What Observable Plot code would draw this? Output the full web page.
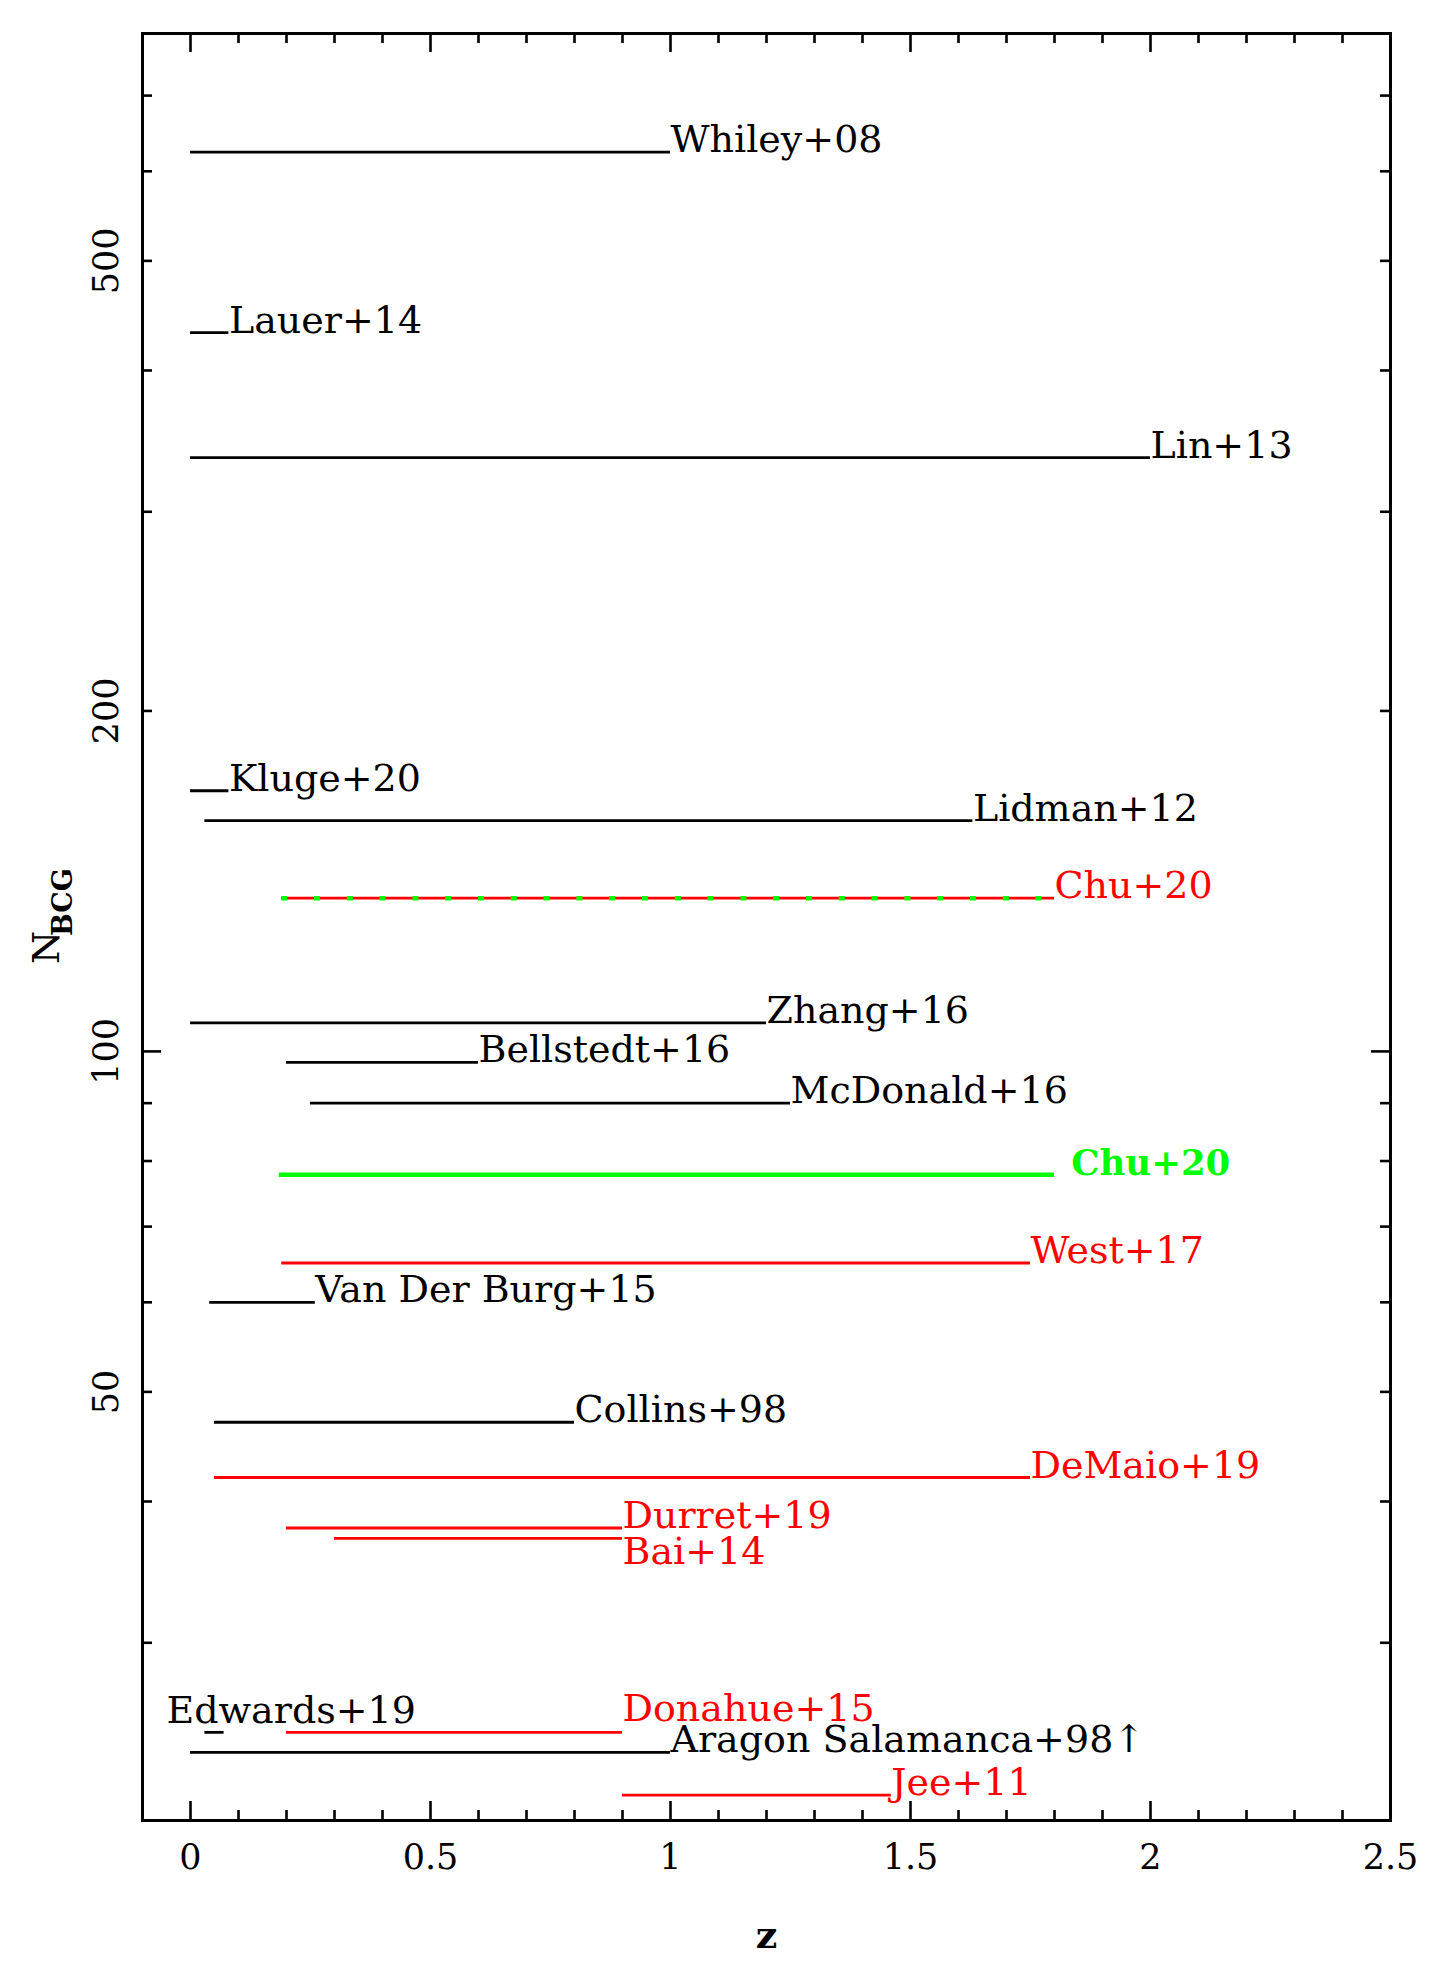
<!DOCTYPE html>
<html><head><meta charset="utf-8">
<script src="https://cdn.jsdelivr.net/npm/d3@7"></script>
<script src="https://cdn.jsdelivr.net/npm/@observablehq/plot@0.6"></script>
<style>html,body{margin:0;padding:0;background:#fff;overflow:hidden}</style>
</head><body><div id="chart"></div>
<script>
// ---- data ----
const names  = ["Whiley+08","Lauer+14","Lin+13","Kluge+20","Lidman+12","Chu+20","Zhang+16","Bellstedt+16","McDonald+16","Chu+20","West+17","Van Der Burg+15","Collins+98","DeMaio+19","Durret+19","Bai+14","Edwards+19","Donahue+15","Aragon Salamanca+98\u2191","Jee+11"];
const zStart = [0,   0,    0,   0,    0.03, 0.19, 0,   0.2,  0.25, 0.185, 0.19, 0.04, 0.05, 0.05, 0.2,  0.3,  0.03, 0.2,  0,   0.9];
const zEnd   = [1.0, 0.08, 2.0, 0.08, 1.63, 1.8,  1.2, 0.6,  1.25, 1.8,   1.75, 0.26, 0.8,  1.75, 0.9,  0.9,  0.07, 0.9,  1.0, 1.46];
const nBCG   = [624, 432,  335, 170,  160,  136.6,106, 97.8, 90,   77.8,  65,   60,   47,   42,   37.9, 37.1, 25,   25,   24,  22];
const kind   = ["lit","lit","lit","lit","lit","redgreen","lit","lit","lit","green","red","lit","lit","red","red","red","lit","red","lit","red"];
const labelZ = [1.0, 0.08, 2.0, 0.08, 1.63, 1.8,  1.2, 0.6,  1.25, 1.835, 1.75, 0.26, 0.8,  1.75, 0.9,  0.9,  -0.05,0.9,  1.0, 1.46];
const labelN = [624, 432,  335, 170,  160,  136.6,106, 97.8, 90,   77.8,  65,   60,   47,   42,   37.9, 35.2, 25.5, 25.6, 24,  22];

const xTickLabels = [0, 0.5, 1, 1.5, 2, 2.5];
const xMinorTicks = [0.1,0.2,0.3,0.4,0.6,0.7,0.8,0.9,1.1,1.2,1.3,1.4,1.6,1.7,1.8,1.9,2.1,2.2,2.3,2.4];
const yTickLabels = [50, 100, 200, 500];
const yMajorTicks = [100];
const yMinorTicks = [30,40,50,60,70,80,90,200,300,400,500,600,700];
const xDomain = [-0.1, 2.5];
const yDomain = [Math.pow(10, 1.32), Math.pow(10, 2.9)];

// ---- build table ----
const rows = names.map((name, i) => ({name, z0: zStart[i], z1: zEnd[i], n: nBCG[i], kind: kind[i], lz: labelZ[i], ln: labelN[i]}));
const colorOf = k => k === "green" ? "#00ff00" : (k === "red" || k === "redgreen") ? "#ff0000" : "#000000";

const W = 1436, H = 1968, ML = 142, MR = 46, MT = 33, MB = 148;
const PW = W - ML - MR, PH = H - MT - MB;
const FONT = "DejaVu Serif";

const chart = Plot.plot({
  width: W, height: H,
  marginLeft: ML, marginRight: MR, marginTop: MT, marginBottom: MB,
  style: {background: "#fff", fontFamily: FONT},
  x: {type: "linear", domain: xDomain, axis: null},
  y: {type: "log", domain: yDomain, axis: null},
  marks: [
    // ticks (inside, all four sides)
    Plot.ruleX(xMinorTicks, {x: d => d, insetTop: PH - 10, strokeWidth: 2.6}),
    Plot.ruleX(xTickLabels, {x: d => d, insetTop: PH - 19, strokeWidth: 2.6}),
    Plot.ruleX(xMinorTicks, {x: d => d, insetBottom: PH - 10, strokeWidth: 2.6}),
    Plot.ruleX(xTickLabels, {x: d => d, insetBottom: PH - 19, strokeWidth: 2.6}),
    Plot.ruleY(yMinorTicks, {y: d => d, insetRight: PW - 10, strokeWidth: 2.6}),
    Plot.ruleY(yMajorTicks, {y: d => d, insetRight: PW - 19, strokeWidth: 2.6}),
    Plot.ruleY(yMinorTicks, {y: d => d, insetLeft: PW - 10, strokeWidth: 2.6}),
    Plot.ruleY(yMajorTicks, {y: d => d, insetLeft: PW - 19, strokeWidth: 2.6}),
    Plot.frame({strokeWidth: 3}),
    // tick labels
    Plot.text(xTickLabels, {x: d => d, text: d => String(d), frameAnchor: "bottom", dy: 48, lineAnchor: "bottom", fontSize: 35, fontFamily: FONT}),
    Plot.text(yTickLabels, {y: d => d, text: d => String(d), frameAnchor: "left", dx: -25, rotate: -90, textAnchor: "middle", lineAnchor: "bottom", fontSize: 35, fontFamily: FONT}),
    // axis titles
    Plot.text(["z"], {text: d => d, frameAnchor: "bottom", dy: 127, lineAnchor: "bottom", fontSize: 38, fontWeight: "bold", fontFamily: FONT}),
    Plot.text(["N"], {text: d => d, frameAnchor: "left", dx: -84, dy: 37, rotate: -90, textAnchor: "start", lineAnchor: "bottom", fontSize: 38, fontFamily: FONT}),
    Plot.text(["BCG"], {text: d => d, frameAnchor: "left", dx: -71, dy: 9, rotate: -90, textAnchor: "start", lineAnchor: "bottom", fontSize: 27, fontWeight: "bold", fontFamily: FONT}),
    // segments
    Plot.ruleY(rows.filter(d => d.kind !== "green"), {y: "n", x1: "z0", x2: "z1", stroke: d => colorOf(d.kind), strokeWidth: 2.8}),
    Plot.ruleY(rows.filter(d => d.kind === "green"), {y: "n", x1: "z0", x2: "z1", stroke: d => colorOf(d.kind), strokeWidth: 4.5}),
    Plot.ruleY(rows.filter(d => d.kind === "redgreen"), {y: "n", x1: "z0", x2: "z1", stroke: "#00ff00", strokeWidth: 4.5, strokeDasharray: "6,26.8"}),
    // labels
    Plot.text(rows.filter(d => d.kind !== "green"), {x: "lz", y: "ln", text: "name", fill: d => colorOf(d.kind), textAnchor: "start", lineAnchor: "bottom", fontSize: 38, fontFamily: FONT}),
    Plot.text(rows.filter(d => d.kind === "green"), {x: "lz", y: "ln", text: "name", fill: d => colorOf(d.kind), textAnchor: "start", lineAnchor: "bottom", fontSize: 35.5, fontWeight: "bold", fontFamily: FONT})
  ]
});
document.getElementById("chart").appendChild(chart);
</script>
</body></html>
